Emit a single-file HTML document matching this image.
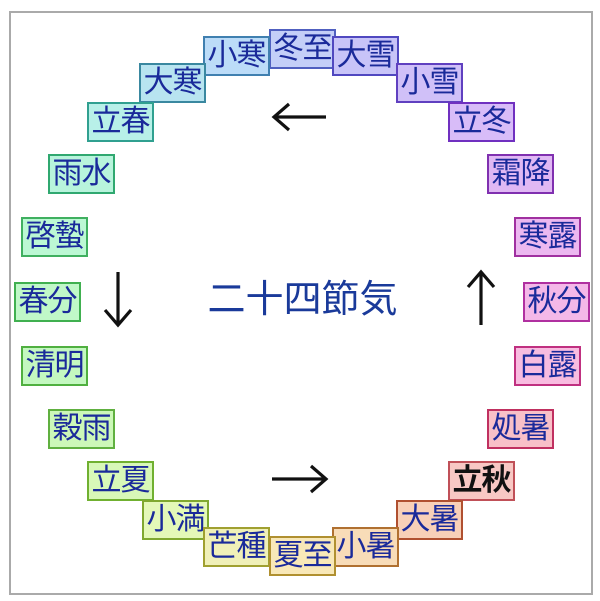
<!DOCTYPE html>
<html><head><meta charset="utf-8"><style>
body{margin:0;width:600px;height:601px;background:#fff;position:relative;overflow:hidden;font-family:"Liberation Sans","Noto Sans CJK JP",sans-serif}
.f{position:absolute;left:9px;top:11px;width:580px;height:580px;border:2px solid #aaa}
.b{position:absolute;width:63px;height:36px;border:2px solid;box-sizing:content-box;font-size:30px;line-height:36px;text-align:center;color:#1a2a9a;white-space:nowrap;letter-spacing:-1px;overflow:visible}
</style></head><body>
<div class="f"></div>
<div class="b" style="left:269px;top:29px;background:#c4cff8;border-color:#5060c0">冬至</div>
<div class="b" style="left:203px;top:36px;background:#bcdcf8;border-color:#4080b0">小寒</div>
<div class="b" style="left:332px;top:36px;background:#c8c4f8;border-color:#5048c0">大雪</div>
<div class="b" style="left:139px;top:63px;background:#b8e4f0;border-color:#3a88a0">大寒</div>
<div class="b" style="left:396px;top:63px;background:#d0c0f8;border-color:#6040c0">小雪</div>
<div class="b" style="left:87px;top:102px;background:#b8f0e8;border-color:#30a090">立春</div>
<div class="b" style="left:448px;top:102px;background:#d8bcf8;border-color:#7030c0">立冬</div>
<div class="b" style="left:48px;top:154px;background:#b8f4dc;border-color:#30a870">雨水</div>
<div class="b" style="left:487px;top:154px;background:#e0b8f4;border-color:#8030b0">霜降</div>
<div class="b" style="left:21px;top:217px;background:#bcf8d4;border-color:#40b060">啓蟄</div>
<div class="b" style="left:514px;top:217px;background:#ecb8f0;border-color:#a030a0">寒露</div>
<div class="b" style="left:14px;top:282px;background:#c0f8c8;border-color:#40b050">春分</div>
<div class="b" style="left:523px;top:282px;background:#f4b8e8;border-color:#b030a0">秋分</div>
<div class="b" style="left:21px;top:346px;background:#c4f8c0;border-color:#50b040">清明</div>
<div class="b" style="left:514px;top:346px;background:#f8bce0;border-color:#c03080">白露</div>
<div class="b" style="left:48px;top:409px;background:#ccf8b8;border-color:#60b040">穀雨</div>
<div class="b" style="left:487px;top:409px;background:#f8c0c8;border-color:#c03060">処暑</div>
<div class="b" style="left:87px;top:461px;background:#d8f8b8;border-color:#70b030">立夏</div>
<div class="b" style="left:448px;top:461px;background:#f8c8c4;border-color:#c05058;color:#111;font-weight:bold">立秋</div>
<div class="b" style="left:142px;top:500px;background:#e4f8b8;border-color:#80a830">小満</div>
<div class="b" style="left:396px;top:500px;background:#f8d0b8;border-color:#b05030">大暑</div>
<div class="b" style="left:203px;top:527px;background:#f0f0b8;border-color:#a0a030">芒種</div>
<div class="b" style="left:332px;top:527px;background:#f8dcb8;border-color:#b07030">小暑</div>
<div class="b" style="left:269px;top:536px;background:#f8e8b8;border-color:#b09030">夏至</div>
<div style="position:absolute;left:195px;top:277px;width:215px;text-align:center;font-size:38px;color:#1a3a9a;line-height:46px">二十四節気</div>
<svg width="600" height="601" style="position:absolute;left:0;top:0" fill="none" stroke="#111" stroke-width="3.2">
<path d="M274 117H326M289 104L274 117L289 130"/>
<path d="M272 479H326M311 466L326 479L311 492"/>
<path d="M118 272V325M105 310L118 325L131 310"/>
<path d="M481 272V325M468 287L481 272L494 287"/>
</svg>
</body></html>
